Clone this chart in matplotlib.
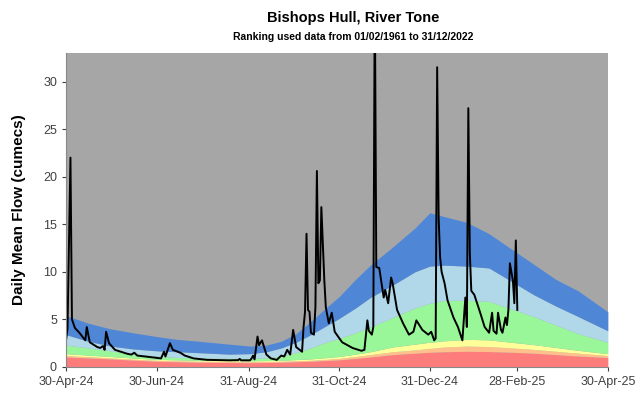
import pandas as pd
import matplotlib.pyplot as plt
import matplotlib.dates as mdates

start = pd.Timestamp('2024-04-30')

# band edges (cumecs), days after 30-Apr-24
band_days = [0, 15, 30, 45, 61, 75, 90, 110, 124, 135, 145, 155, 165, 175, 184,
             195, 205, 220, 235, 245, 255, 270, 285, 300, 315, 330, 345, 365]
red_top = [1.05, 0.95, 0.85, 0.72, 0.6, 0.55, 0.5, 0.47, 0.45, 0.47, 0.5, 0.55, 0.6, 0.68, 0.75,
           0.9, 1.05, 1.3, 1.45, 1.55, 1.6, 1.65, 1.62, 1.55, 1.45, 1.3, 1.15, 1.0]
orange_top = [1.2, 1.08, 0.95, 0.82, 0.7, 0.64, 0.6, 0.57, 0.55, 0.57, 0.6, 0.65, 0.7, 0.8, 0.9,
              1.1, 1.3, 1.6, 1.8, 1.95, 2.1, 2.2, 2.15, 2.0, 1.85, 1.65, 1.45, 1.2]
yellow_top = [1.4, 1.25, 1.1, 0.95, 0.8, 0.75, 0.7, 0.67, 0.65, 0.67, 0.7, 0.78, 0.85, 0.98, 1.1,
              1.35, 1.6, 2.1, 2.4, 2.6, 2.75, 2.9, 2.85, 2.6, 2.35, 2.05, 1.75, 1.4]
green_top = [2.3, 2.0, 1.7, 1.35, 1.15, 1.0, 0.95, 0.9, 0.9, 0.95, 1.15, 1.5, 2.0, 2.6, 3.0,
             3.6, 4.2, 5.2, 6.2, 6.7, 7.0, 7.0, 6.9, 6.1, 5.3, 4.4, 3.5, 2.6]
lblue_top = [3.4, 2.7, 2.2, 1.9, 1.7, 1.6, 1.5, 1.35, 1.4, 1.6, 2.0, 2.6, 3.4, 4.3, 5.1,
             6.2, 7.3, 8.6, 10.0, 10.6, 10.7, 10.6, 10.4, 9.0, 7.6, 6.4, 5.3, 3.8]
blue_top = [5.4, 4.6, 4.0, 3.6, 3.2, 2.9, 2.7, 2.4, 2.2, 2.3, 2.7, 3.5, 4.8, 6.2, 7.4,
            9.2, 10.7, 12.6, 14.6, 16.2, 15.8, 15.2, 14.0, 12.4, 10.8, 9.2, 8.0, 5.8]

# observed daily mean flow
flow_days = [0, 1, 3, 4, 6, 9, 13, 14, 16, 21, 23, 25, 26, 27, 29, 33, 41, 44, 46, 48,
             59, 64, 66, 67, 70, 72, 77, 80, 86, 95, 110, 116, 117, 118, 124, 125, 126, 127,
             129, 130, 132, 135, 138, 142, 145, 147, 149, 151, 153, 155, 159, 160, 161, 162,
             163, 164, 165, 167, 168, 169, 170, 171, 172, 174, 175, 177, 179, 181, 186, 193,
             199, 201, 203, 204, 206, 207, 208, 209, 211, 214, 215, 217, 219, 220, 223, 227,
             231, 234, 236, 240, 244, 246, 248, 249, 250, 251, 252, 253, 255, 257, 261, 264,
             267, 269, 270, 271, 272, 273, 275, 279, 282, 285, 287, 288, 290, 291, 293, 294,
             296, 297, 298, 299, 301, 302, 303, 304]
flow = [2.8, 4.0, 22.0, 5.0, 4.1, 3.6, 2.8, 4.2, 2.6, 2.1, 2.0, 2.2, 1.8, 3.7, 2.5, 1.8, 1.4, 1.3, 1.5, 1.2,
        1.0, 0.9, 1.6, 1.1, 2.5, 1.8, 1.5, 1.2, 0.9, 0.75, 0.7, 0.72, 0.85, 0.7, 0.7, 0.9, 1.2, 0.8,
        3.2, 2.3, 2.8, 1.3, 0.9, 0.75, 1.2, 1.1, 1.8, 1.3, 3.9, 2.1, 1.6, 4.2, 5.8, 14.0,
        6.0, 5.8, 3.6, 3.4, 6.3, 20.6, 8.8, 9.1, 16.8, 9.1, 6.3, 4.6, 5.7, 3.7, 2.6, 2.0,
        1.7, 1.8, 4.9, 3.8, 3.4, 4.2, 40.0, 10.5, 10.4, 7.3, 8.1, 6.7, 9.4, 8.8, 6.0, 4.6,
        3.4, 3.7, 4.9, 3.9, 3.4, 3.7, 2.8, 3.0, 31.5, 15.7, 11.5, 10.0, 8.8, 7.0, 5.2, 4.2,
        2.8, 7.3, 4.2, 27.2, 12.0, 8.0, 7.6, 5.7, 4.2, 3.6, 5.7, 3.8, 3.5, 5.7, 3.9, 3.6,
        5.2, 4.4, 6.0, 10.9, 9.1, 6.7, 13.3, 6.0]

tick_dates = ['2024-04-30', '2024-06-30', '2024-08-31', '2024-10-31',
              '2024-12-31', '2025-02-28', '2025-04-30']

bx = start + pd.to_timedelta(band_days, unit='D')
fx = start + pd.to_timedelta(flow_days, unit='D')

plt.rcParams['font.family'] = ['Liberation Sans', 'DejaVu Sans']
fig = plt.figure(figsize=(6.39, 3.97), dpi=100)
ax = fig.add_axes([0.1033, 0.0756, 0.848, 0.791])
ax.set_facecolor('#a6a6a6')

layers = [(red_top, '#ff7c7c'), (orange_top, '#ffc08c'), (yellow_top, '#ffff99'),
          (green_top, '#99f79a'), (lblue_top, '#b0d8e8'), (blue_top, '#4f87d6')]
lower = [0] * len(band_days)
for top, col in layers:
    ax.fill_between(bx, lower, top, color=col, lw=0)
    lower = top

ax.plot(fx, flow, color='black', lw=1.4)

ax.set_xlim(pd.Timestamp(tick_dates[0]), pd.Timestamp(tick_dates[-1]))
ax.set_ylim(0, 33)
ax.set_yticks(range(0, 31, 5))
ax.set_xticks(pd.to_datetime(tick_dates))
ax.xaxis.set_major_formatter(mdates.DateFormatter('%d-%b-%y'))
ax.tick_params(labelsize=9, colors='#404040', length=3, width=0.8)
for s in ['top', 'right']:
    ax.spines[s].set_visible(False)
for s in ['left', 'bottom']:
    ax.spines[s].set_color('#888888')

ax.set_ylabel('Daily Mean Flow (cumecs)', fontsize=11, fontweight='bold', labelpad=12)

fig.text(0.553, 0.955, 'Bishops Hull, River Tone', ha='center', va='center',
         fontsize=10.5, fontweight='bold')
fig.text(0.553, 0.907, 'Ranking used data from 01/02/1961 to 31/12/2022', ha='center',
         va='center', fontsize=7.5, fontweight='bold')

fig.savefig('out.png', dpi=100)
